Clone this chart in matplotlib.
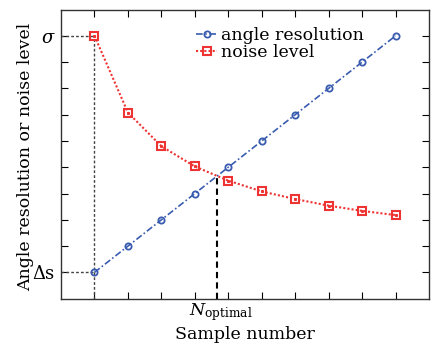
import matplotlib
matplotlib.use("Agg")
import matplotlib.pyplot as plt
import numpy as np

sample = [1, 2, 3, 4, 5, 6, 7, 8, 9, 10]
angle_resolution = [1, 2, 3, 4, 5, 6, 7, 8, 9, 10]
noise_level = [10, 7.08, 5.80, 5.03, 4.49, 4.08, 3.79, 3.54, 3.34, 3.18]
n_optimal = 4.66
ytick_labels = [r"$\Delta$s", r"$\sigma$"]

plt.rcParams['font.family'] = ['DejaVu Serif']
plt.rcParams['mathtext.fontset'] = 'dejavuserif'

fig = plt.figure(figsize=(4.33, 3.46), dpi=100)
ax = fig.add_axes([0.1409, 0.1367, 0.8499, 0.8358])

blue = '#3a5cb0'
red = '#ee3333'

ax.plot(sample, angle_resolution, color=blue, linestyle=(0, (4, 1.5, 1, 1.5)), lw=1.2,
        marker='o', mfc='none', mec=blue, ms=4.5, mew=1.3, label='angle resolution', zorder=3)
ax.plot(sample, noise_level, color=red, linestyle=(0, (1, 1)), lw=1.5,
        marker='s', mfc='none', mec=red, ms=6, mew=1.5, label='noise level', zorder=3)
ax.plot(sample, noise_level, linestyle='none', marker='s', ms=1.2, color=red, zorder=4)

# guide lines
g = '#444444'
ax.plot([0, sample[0]], [noise_level[0], noise_level[0]], color=g, ls=(0, (2, 1.5)), lw=1)
ax.plot([0, sample[0]], [angle_resolution[0], angle_resolution[0]], color=g, ls=(0, (2, 1.5)), lw=1)
ax.plot([sample[0], sample[0]], [0, noise_level[0]], color=g, ls=(0, (2, 1.5)), lw=1)
ax.plot([n_optimal, n_optimal], [0, n_optimal], color='black', ls=(0, (3, 2)), lw=1.5)

ax.set_xlim(0, 11)
ax.set_ylim(0, 11)
ax.set_xticks(sample)
ax.set_xticklabels([''] * len(sample))
ax.set_yticks(range(1, 11))
ax.set_yticklabels([ytick_labels[0]] + [''] * 8 + [ytick_labels[1]], fontsize=13)
ax.tick_params(direction='in', top=True, right=True, length=5, width=0.8, pad=4)
ax.text(n_optimal + 0.12, -0.08, r"$N_{\mathrm{optimal}}$", ha='center', va='top', fontsize=12.5)
ax.set_xlabel('Sample number', fontsize=12.5, labelpad=16)
ax.set_ylabel('Angle resolution or noise level', fontsize=12.5)
ax.yaxis.set_label_coords(-0.072, 0.49)
for s in ax.spines.values():
    s.set_linewidth(1.0)
    s.set_color('#333333')

ax.legend(loc='upper right', bbox_to_anchor=(0.85, 0.975), frameon=False, fontsize=12.5,
          handlelength=1.2, handletextpad=0.2, labelspacing=0.0, borderaxespad=0.2)

fig.savefig('out.png', dpi=100)
